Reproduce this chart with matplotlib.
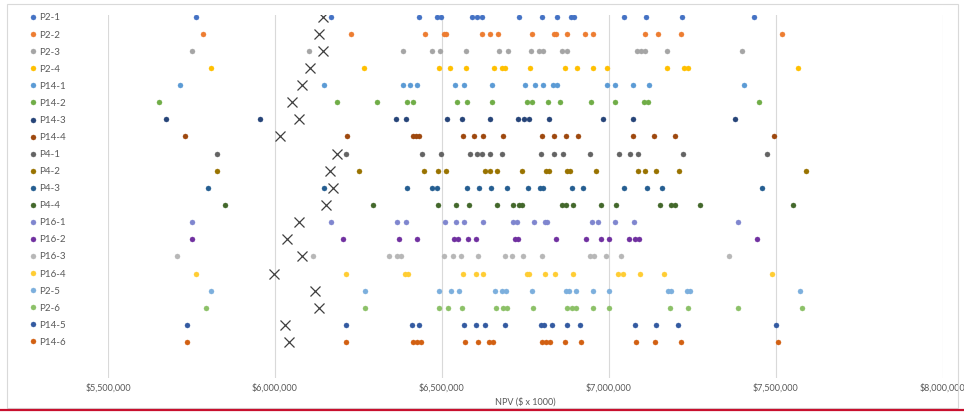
"""
NPV spread per scenario (dot strip chart)
"""
import matplotlib
matplotlib.use('Agg')
import matplotlib.pyplot as plt
from matplotlib.lines import Line2D
from matplotlib.patches import Rectangle
from matplotlib.ticker import FuncFormatter

# ==== data ==== #
SERIES_NAMES = ['P2-1', 'P2-2', 'P2-3', 'P2-4', 'P14-1', 'P14-2', 'P14-3', 'P14-4',
                'P4-1', 'P4-2', 'P4-3', 'P4-4', 'P16-1', 'P16-2', 'P16-3', 'P16-4',
                'P2-5', 'P2-6', 'P14-5', 'P14-6']

P2_1 = [5763, 6168, 6431, 6485, 6497, 6590, 6605, 6620, 6731, 6799, 6844, 6886, 6895,
        7045, 7111, 7219, 7434]
P2_2 = [5784, 6228, 6449, 6506, 6512, 6620, 6644, 6668, 6770, 6835, 6841, 6874, 6928,
        6952, 7108, 7147, 7216, 7518]
P2_3 = [5752, 6102, 6383, 6470, 6494, 6572, 6671, 6698, 6766, 6790, 6802, 6859, 6874,
        7084, 7096, 7108, 7174, 7398]
P2_4 = [5808, 6266, 6491, 6524, 6572, 6656, 6680, 6689, 6763, 6868, 6904, 6952, 6994,
        7174, 7225, 7236, 7566]
P14_1 = [5716, 6147, 6383, 6404, 6425, 6539, 6566, 6650, 6749, 6778, 6802, 6832, 6844,
         6994, 7018, 7072, 7120, 7404]
P14_2 = [5653, 6186, 6305, 6395, 6413, 6545, 6575, 6650, 6755, 6770, 6817, 6853, 6946,
         7018, 7105, 7117, 7449]
P14_3 = [5674, 5955, 6362, 6392, 6515, 6560, 6644, 6728, 6746, 6761, 6820, 6982, 7072,
         7377]
P14_4 = [5731, 6216, 6413, 6422, 6431, 6563, 6596, 6623, 6683, 6799, 6835, 6871, 6907,
         7072, 7135, 7198, 7494]
P4_1 = [5826, 6213, 6440, 6497, 6584, 6605, 6620, 6644, 6680, 6796, 6835, 6862, 6943,
        7030, 7063, 7087, 7222, 7473]
P4_2 = [5826, 6252, 6446, 6488, 6512, 6629, 6644, 6665, 6740, 6811, 6820, 6874, 6883,
        6961, 7087, 7108, 7141, 7210, 7590]
P4_3 = [5799, 6147, 6395, 6470, 6485, 6575, 6611, 6647, 6695, 6758, 6793, 6802, 6889,
        6922, 7045, 7114, 7159, 7458]
P4_4 = [5850, 6293, 6488, 6542, 6581, 6665, 6713, 6731, 6740, 6859, 6871, 6892, 6976,
        7021, 7153, 7186, 7198, 7272, 7551]
P16_1 = [5752, 6168, 6365, 6392, 6509, 6542, 6566, 6623, 6713, 6725, 6775, 6808, 6814,
         6949, 6967, 7018, 7075, 7386]
P16_2 = [5752, 6204, 6371, 6425, 6536, 6548, 6578, 6602, 6719, 6728, 6841, 6931, 6976,
         7000, 7060, 7078, 7090, 7443]
P16_3 = [5707, 6114, 6341, 6365, 6377, 6506, 6533, 6557, 6608, 6689, 6710, 6743, 6799,
         6943, 6955, 6991, 7036, 7359]
P16_4 = [5763, 6213, 6389, 6398, 6563, 6602, 6623, 6755, 6761, 6808, 6838, 6892, 7027,
         7042, 7093, 7165, 7488]
P2_5 = [5808, 6269, 6491, 6527, 6551, 6659, 6680, 6692, 6770, 6871, 6880, 6901, 6952,
        7000, 7177, 7186, 7234, 7243, 7572]
P2_6 = [5793, 6269, 6491, 6518, 6560, 6662, 6683, 6695, 6772, 6874, 6889, 6901, 6952,
        7000, 7183, 7236, 7386, 7578]
P14_5 = [5737, 6213, 6410, 6431, 6566, 6602, 6629, 6689, 6796, 6805, 6829, 6874, 6913,
         7078, 7141, 7207, 7500]
P14_6 = [5737, 6213, 6413, 6425, 6437, 6569, 6608, 6641, 6653, 6799, 6811, 6823, 6868,
         6916, 7081, 7138, 7216, 7506]

# NPV in $ x 1000 for each scenario, same order as SERIES_NAMES
SERIES_VALUES = [P2_1, P2_2, P2_3, P2_4, P14_1, P14_2, P14_3, P14_4, P4_1, P4_2,
                 P4_3, P4_4, P16_1, P16_2, P16_3, P16_4, P2_5, P2_6, P14_5, P14_6]

# reference case (black crosses)
BASE_NPV = [6144, 6132, 6144, 6105, 6081, 6051, 6072, 6015, 6186, 6165,
            6174, 6153, 6072, 6036, 6081, 5997, 6120, 6132, 6030, 6042]

SERIES_COLORS = ['#4472C4', '#ED7D31', '#A5A5A5', '#FFC000', '#5B9BD5', '#70AD47',
                 '#264478', '#9E480E', '#636363', '#997300', '#255E91', '#43682B',
                 '#7F86CF', '#7030A0', '#B7B7B7', '#FFCD33', '#7CAFDD', '#8CC168',
                 '#335AA1', '#D26012']

X_TICKS = [5500000, 6000000, 6500000, 7000000, 7500000, 8000000]

# ==== style ==== #
TEXT_COLOR = '#595959'
GRID_COLOR = '#D9D9D9'
plt.rcParams['font.family'] = ['Lato', 'DejaVu Sans']


def drawChart(fileName='out.png'):
    fig = plt.figure(figsize=(9.64, 4.13), dpi=100)
    ax = fig.add_axes([0.112, 0.0847, 0.866, 0.879])

    for row, (name, values, color) in enumerate(zip(SERIES_NAMES, SERIES_VALUES, SERIES_COLORS)):
        xs = [v * 1000 for v in values]
        ax.plot(xs, [row] * len(xs), linestyle='none', marker='o', markersize=3.6,
                markerfacecolor=color, markeredgecolor=color, markeredgewidth=0.3,
                label=name, zorder=3)

    ax.plot([v * 1000 for v in BASE_NPV], list(range(len(BASE_NPV))), linestyle='none',
            marker='x', markersize=7, markeredgewidth=0.9, color='#3F3F3F', zorder=4)

    ax.set_xlim(5500000, 8000000)
    ax.set_ylim(len(SERIES_NAMES) + 1.1, -0.09)
    ax.set_xticks(X_TICKS)
    ax.xaxis.set_major_formatter(FuncFormatter(lambda v, _: f'${v:,.0f}'))
    ax.set_yticks([])
    ax.tick_params(axis='x', length=0, pad=4, labelsize=6.5, labelcolor=TEXT_COLOR)
    ax.grid(axis='x', color=GRID_COLOR, linewidth=0.8)
    ax.set_axisbelow(True)
    for spine in ax.spines.values():
        spine.set_visible(False)
    ax.set_xlabel('NPV ($ x 1000)', fontsize=6.5, color=TEXT_COLOR, labelpad=3)

    ax.legend(loc='upper left', bbox_to_anchor=(30 / 964, 1 - 13.5 / 413),
              bbox_transform=fig.transFigure, frameon=False, fontsize=7,
              labelcolor=TEXT_COLOR, handlelength=0.6, handletextpad=0.35,
              labelspacing=0.83, borderpad=0, borderaxespad=0)

    # chart frame and the page rule below it
    fig.patches.append(Rectangle((7 / 964, 5 / 413), 951 / 964, 404 / 413,
                                 transform=fig.transFigure, fill=False,
                                 edgecolor=GRID_COLOR, linewidth=0.8))
    fig.lines.append(Line2D([0, 1], [3 / 413, 3 / 413], transform=fig.transFigure,
                            color='#C8102E', linewidth=1.6))

    fig.savefig(fileName, dpi=100)


if __name__ == '__main__':
    drawChart()
